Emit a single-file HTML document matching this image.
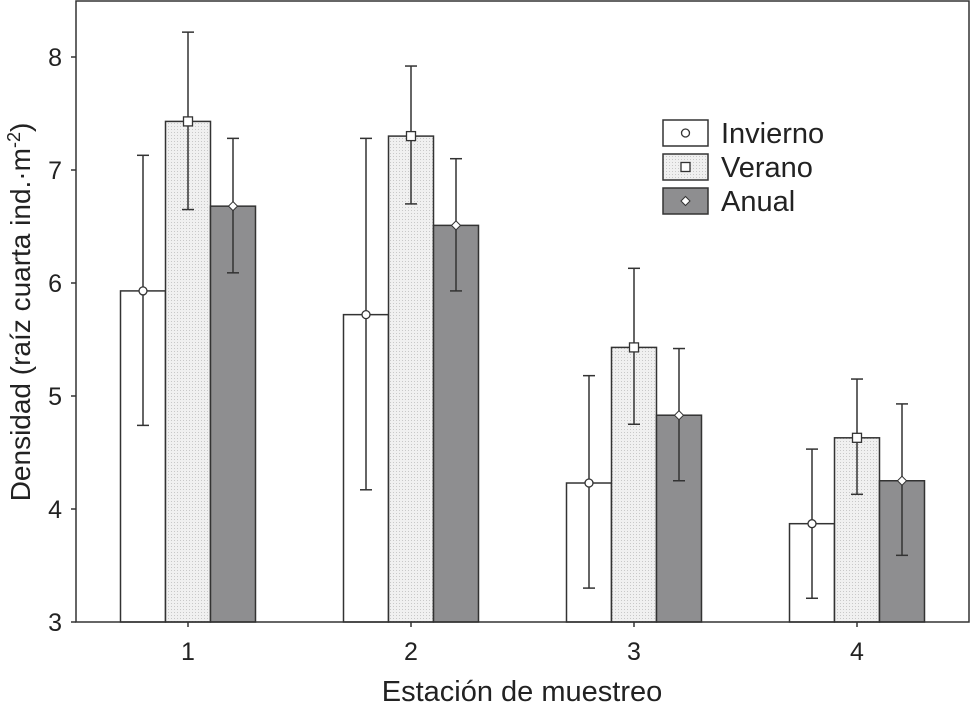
<!DOCTYPE html>
<html><head><meta charset="utf-8"><style>
body{margin:0;background:#fff}
svg{display:block;font-family:"Liberation Sans",sans-serif;fill:#222}
</style></head><body>
<svg id="c" width="972" height="704" xmlns="http://www.w3.org/2000/svg">
<defs><pattern id="dots" width="3" height="3" patternUnits="userSpaceOnUse"><rect width="3" height="3" fill="#f0f0f0"/><rect width="1" height="1" fill="#c8c8c8"/></pattern></defs>
<g id="g"></g>
</svg>
<script>
const categories=["1","2","3","4"];
const seriesNames=["Invierno","Verano","Anual"];
const invierno=[5.93,5.72,4.23,3.87];
const inviernoLo=[4.74,4.17,3.30,3.21];
const inviernoHi=[7.13,7.28,5.18,4.53];
const verano=[7.43,7.30,5.43,4.63];
const veranoLo=[6.65,6.70,4.75,4.13];
const veranoHi=[8.22,7.92,6.13,5.15];
const anual=[6.68,6.51,4.83,4.25];
const anualLo=[6.09,5.93,4.25,3.59];
const anualHi=[7.28,7.10,5.42,4.93];
const yTicks=[3,4,5,6,7,8];
const NS="http://www.w3.org/2000/svg";
const g=document.getElementById('g');
const L=76,R=969,T=1,B=622;
const y=v=>B-(v-3)*113;
const x=i=>188+i*223;
const bw=45;
function mk(t,a,p){const e=document.createElementNS(NS,t);for(const k in a)e.setAttribute(k,a[k]);(p||g).appendChild(e);return e;}
const fills=["#fff","url(#dots)","#8e8e90"];
const vals=[invierno,verano,anual],los=[inviernoLo,veranoLo,anualLo],his=[inviernoHi,veranoHi,anualHi];
function marker(k,cx,cy,parent){
  let e;
  if(k===0)e=mk('circle',{cx:cx,cy:cy,r:4,fill:'#fff',stroke:'#333','stroke-width':1.3},parent);
  else if(k===1)e=mk('rect',{x:cx-4.5,y:cy-4.5,width:9,height:9,fill:'#fff',stroke:'#333','stroke-width':1.3},parent);
  else e=mk('polygon',{points:`${cx},${cy-4.5} ${cx+4.5},${cy} ${cx},${cy+4.5} ${cx-4.5},${cy}`,fill:'#fff',stroke:'#333','stroke-width':1},parent);
  return e;
}
categories.forEach((c,i)=>{
  for(let k=0;k<3;k++){
    const bx=x(i)+(k-1)*bw-bw/2, cx=bx+bw/2;
    const b=mk('rect',{x:bx,y:y(vals[k][i]),width:bw,height:B-y(vals[k][i]),fill:fills[k],stroke:'#333','stroke-width':1.5});
    
    
    const eb=mk('g',{stroke:'#333','stroke-width':1.5});
    
    
    mk('line',{x1:cx,x2:cx,y1:y(his[k][i]),y2:y(los[k][i])},eb);
    mk('line',{x1:cx-6,x2:cx+6,y1:y(his[k][i]),y2:y(his[k][i])},eb);
    mk('line',{x1:cx-6,x2:cx+6,y1:y(los[k][i]),y2:y(los[k][i])},eb);
    marker(k,cx,y(vals[k][i]));
  }
  mk('line',{x1:x(i),x2:x(i),y1:B,y2:B+5,stroke:'#333','stroke-width':1.5});
  const t=mk('text',{x:x(i),y:B+38,'text-anchor':'middle','font-size':25});t.textContent=c;
  
  
});
yTicks.forEach(v=>{
  mk('line',{x1:L-5,x2:L,y1:y(v),y2:y(v),stroke:'#333','stroke-width':1.5});
  const t=mk('text',{x:L-14,y:y(v)+9,'text-anchor':'end','font-size':25});t.textContent=v;
  
  
});
const fr=mk('rect',{x:L,y:T,width:R-L,height:B-T,fill:'none',stroke:'#333','stroke-width':1.5});


const xt=mk('text',{x:522,y:701,'text-anchor':'middle','font-size':29});xt.textContent='Estación de muestreo';


const yt=mk('text',{transform:'translate(30,312) rotate(-90)','text-anchor':'middle','font-size':28});
yt.innerHTML='Densidad (raíz cuarta ind.·m<tspan dy="-10" font-size="18">-2</tspan><tspan dy="10">)</tspan>';


const lg=mk('g',{});


seriesNames.forEach((n,k)=>{
  const yy=120+k*34;
  const r=mk('rect',{x:663,y:yy,width:45,height:26,fill:fills[k],stroke:'#333','stroke-width':1.5},lg);
  
  
  marker(k,685.5,yy+13,lg);
  const t=mk('text',{x:721,y:yy+23,'font-size':29},lg);t.textContent=n;
  
  
});
</script>
</body></html>
